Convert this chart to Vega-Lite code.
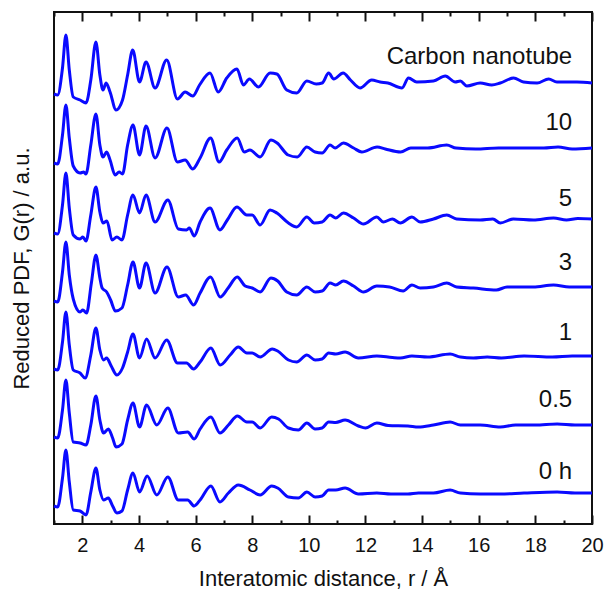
{
"$schema": "https://vega.github.io/schema/vega-lite/v6.json",
"width": 538, "height": 512,
"autosize": "none",
"padding": {"left": 54, "top": 12, "right": 14, "bottom": 71},
"config": {"view": {"stroke": "#111111", "strokeWidth": 2}, "font": "Liberation Sans"},
"datasets": {
"labels": [
{"t": "Carbon nanotube", "r": 19.3, "g": 467},
{"t": "10", "r": 19.3, "g": 401},
{"t": "5", "r": 19.3, "g": 325},
{"t": "3", "r": 19.3, "g": 261},
{"t": "1", "r": 19.3, "g": 191},
{"t": "0.5", "r": 19.3, "g": 124},
{"t": "0 h", "r": 19.3, "g": 52}
],
"curves": [
{"s":"CNT","r":1.00,"g":430},{"s":"CNT","r":1.13,"g":429},{"s":"CNT","r":1.30,"g":456},{"s":"CNT","r":1.42,"g":489},{"s":"CNT","r":1.54,"g":454},{"s":"CNT","r":1.68,"g":427},{"s":"CNT","r":1.92,"g":424},{"s":"CNT","r":2.13,"g":421},{"s":"CNT","r":2.30,"g":444},{"s":"CNT","r":2.48,"g":482},{"s":"CNT","r":2.62,"g":449},{"s":"CNT","r":2.73,"g":434},{"s":"CNT","r":2.84,"g":441},{"s":"CNT","r":2.98,"g":432},{"s":"CNT","r":3.19,"g":414},{"s":"CNT","r":3.42,"g":424},{"s":"CNT","r":3.60,"g":449},{"s":"CNT","r":3.78,"g":474},{"s":"CNT","r":4.02,"g":442},{"s":"CNT","r":4.25,"g":462},{"s":"CNT","r":4.57,"g":436},{"s":"CNT","r":4.98,"g":464},{"s":"CNT","r":5.36,"g":425},{"s":"CNT","r":5.63,"g":432},{"s":"CNT","r":5.90,"g":428},{"s":"CNT","r":6.14,"g":439},{"s":"CNT","r":6.51,"g":451},{"s":"CNT","r":6.80,"g":432},{"s":"CNT","r":7.10,"g":446},{"s":"CNT","r":7.46,"g":455},{"s":"CNT","r":7.69,"g":439},{"s":"CNT","r":7.90,"g":445},{"s":"CNT","r":8.22,"g":437},{"s":"CNT","r":8.63,"g":451},{"s":"CNT","r":8.87,"g":450},{"s":"CNT","r":9.22,"g":434},{"s":"CNT","r":9.57,"g":431},{"s":"CNT","r":9.93,"g":443},{"s":"CNT","r":10.26,"g":440},{"s":"CNT","r":10.47,"g":441},{"s":"CNT","r":10.70,"g":451},{"s":"CNT","r":10.88,"g":445},{"s":"CNT","r":11.21,"g":451},{"s":"CNT","r":11.47,"g":444},{"s":"CNT","r":11.81,"g":436},{"s":"CNT","r":12.22,"g":444},{"s":"CNT","r":12.52,"g":442},{"s":"CNT","r":12.79,"g":441},{"s":"CNT","r":13.29,"g":436},{"s":"CNT","r":13.52,"g":446},{"s":"CNT","r":13.81,"g":442},{"s":"CNT","r":14.40,"g":443},{"s":"CNT","r":14.82,"g":448},{"s":"CNT","r":15.17,"g":442},{"s":"CNT","r":15.35,"g":443},{"s":"CNT","r":15.58,"g":438},{"s":"CNT","r":16.05,"g":441},{"s":"CNT","r":16.46,"g":439},{"s":"CNT","r":16.76,"g":441},{"s":"CNT","r":17.23,"g":446},{"s":"CNT","r":17.58,"g":442},{"s":"CNT","r":18.06,"g":441},{"s":"CNT","r":18.47,"g":445},{"s":"CNT","r":18.76,"g":442},{"s":"CNT","r":19.12,"g":442},{"s":"CNT","r":19.47,"g":442},{"s":"CNT","r":20.00,"g":441},

{"s":"10","r":1.00,"g":361},{"s":"10","r":1.13,"g":360},{"s":"10","r":1.30,"g":389},{"s":"10","r":1.42,"g":419},{"s":"10","r":1.54,"g":386},{"s":"10","r":1.68,"g":358},{"s":"10","r":1.92,"g":351},{"s":"10","r":2.05,"g":352},{"s":"10","r":2.13,"g":350},{"s":"10","r":2.30,"g":379},{"s":"10","r":2.48,"g":410},{"s":"10","r":2.62,"g":379},{"s":"10","r":2.73,"g":367},{"s":"10","r":2.86,"g":372},{"s":"10","r":2.98,"g":364},{"s":"10","r":3.16,"g":349},{"s":"10","r":3.30,"g":352},{"s":"10","r":3.42,"g":350},{"s":"10","r":3.60,"g":379},{"s":"10","r":3.79,"g":399},{"s":"10","r":4.02,"g":369},{"s":"10","r":4.25,"g":398},{"s":"10","r":4.57,"g":366},{"s":"10","r":4.99,"g":396},{"s":"10","r":5.36,"g":362},{"s":"10","r":5.63,"g":364},{"s":"10","r":5.90,"g":355},{"s":"10","r":6.16,"g":366},{"s":"10","r":6.53,"g":386},{"s":"10","r":6.83,"g":362},{"s":"10","r":7.10,"g":374},{"s":"10","r":7.47,"g":386},{"s":"10","r":7.72,"g":372},{"s":"10","r":7.92,"g":374},{"s":"10","r":8.28,"g":367},{"s":"10","r":8.66,"g":384},{"s":"10","r":8.88,"g":381},{"s":"10","r":9.27,"g":369},{"s":"10","r":9.59,"g":367},{"s":"10","r":9.93,"g":377},{"s":"10","r":10.22,"g":372},{"s":"10","r":10.47,"g":371},{"s":"10","r":10.75,"g":379},{"s":"10","r":10.93,"g":376},{"s":"10","r":11.22,"g":381},{"s":"10","r":11.58,"g":376},{"s":"10","r":11.87,"g":372},{"s":"10","r":12.41,"g":377},{"s":"10","r":12.70,"g":375},{"s":"10","r":13.24,"g":372},{"s":"10","r":13.60,"g":376},{"s":"10","r":14.20,"g":376},{"s":"10","r":14.87,"g":379},{"s":"10","r":15.20,"g":376},{"s":"10","r":15.90,"g":375},{"s":"10","r":16.70,"g":376},{"s":"10","r":17.40,"g":376},{"s":"10","r":18.30,"g":376},{"s":"10","r":18.80,"g":377},{"s":"10","r":19.30,"g":375},{"s":"10","r":20.00,"g":376},

{"s":"5","r":1.00,"g":291},{"s":"5","r":1.13,"g":290},{"s":"5","r":1.30,"g":319},{"s":"5","r":1.42,"g":351},{"s":"5","r":1.54,"g":316},{"s":"5","r":1.68,"g":289},{"s":"5","r":1.92,"g":285},{"s":"5","r":2.02,"g":287},{"s":"5","r":2.13,"g":283},{"s":"5","r":2.30,"g":309},{"s":"5","r":2.48,"g":337},{"s":"5","r":2.62,"g":312},{"s":"5","r":2.73,"g":301},{"s":"5","r":2.87,"g":303},{"s":"5","r":3.05,"g":284},{"s":"5","r":3.22,"g":287},{"s":"5","r":3.40,"g":284},{"s":"5","r":3.60,"g":309},{"s":"5","r":3.79,"g":329},{"s":"5","r":4.02,"g":311},{"s":"5","r":4.25,"g":329},{"s":"5","r":4.57,"g":302},{"s":"5","r":5.02,"g":324},{"s":"5","r":5.39,"g":295},{"s":"5","r":5.68,"g":294},{"s":"5","r":5.78,"g":296},{"s":"5","r":5.95,"g":288},{"s":"5","r":6.16,"g":302},{"s":"5","r":6.51,"g":316},{"s":"5","r":6.86,"g":294},{"s":"5","r":7.12,"g":304},{"s":"5","r":7.46,"g":317},{"s":"5","r":7.81,"g":309},{"s":"5","r":8.00,"g":309},{"s":"5","r":8.28,"g":299},{"s":"5","r":8.63,"g":314},{"s":"5","r":8.87,"g":311},{"s":"5","r":9.28,"g":301},{"s":"5","r":9.57,"g":297},{"s":"5","r":9.93,"g":307},{"s":"5","r":10.19,"g":301},{"s":"5","r":10.47,"g":302},{"s":"5","r":10.75,"g":309},{"s":"5","r":10.95,"g":306},{"s":"5","r":11.22,"g":311},{"s":"5","r":11.58,"g":306},{"s":"5","r":11.93,"g":300},{"s":"5","r":12.40,"g":307},{"s":"5","r":12.63,"g":302},{"s":"5","r":12.95,"g":305},{"s":"5","r":13.23,"g":301},{"s":"5","r":13.64,"g":307},{"s":"5","r":13.93,"g":302},{"s":"5","r":14.40,"g":305},{"s":"5","r":14.87,"g":309},{"s":"5","r":15.22,"g":305},{"s":"5","r":16.05,"g":304},{"s":"5","r":16.50,"g":305},{"s":"5","r":16.76,"g":301},{"s":"5","r":17.22,"g":305},{"s":"5","r":17.93,"g":304},{"s":"5","r":18.64,"g":306},{"s":"5","r":19.10,"g":304},{"s":"5","r":19.50,"g":305.5},{"s":"5","r":20.00,"g":305},

{"s":"3","r":1.00,"g":223},{"s":"3","r":1.13,"g":222},{"s":"3","r":1.30,"g":252},{"s":"3","r":1.42,"g":282},{"s":"3","r":1.54,"g":249},{"s":"3","r":1.68,"g":225},{"s":"3","r":1.92,"g":212},{"s":"3","r":2.02,"g":214},{"s":"3","r":2.15,"g":211},{"s":"3","r":2.32,"g":241},{"s":"3","r":2.48,"g":269},{"s":"3","r":2.62,"g":246},{"s":"3","r":2.70,"g":236},{"s":"3","r":2.86,"g":232},{"s":"3","r":3.00,"g":224},{"s":"3","r":3.17,"g":213},{"s":"3","r":3.40,"g":216},{"s":"3","r":3.60,"g":239},{"s":"3","r":3.79,"g":262},{"s":"3","r":4.02,"g":236},{"s":"3","r":4.25,"g":261},{"s":"3","r":4.57,"g":231},{"s":"3","r":4.99,"g":257},{"s":"3","r":5.39,"g":227},{"s":"3","r":5.65,"g":229},{"s":"3","r":5.93,"g":219},{"s":"3","r":6.16,"g":231},{"s":"3","r":6.53,"g":247},{"s":"3","r":6.87,"g":227},{"s":"3","r":7.15,"g":236},{"s":"3","r":7.47,"g":247},{"s":"3","r":7.75,"g":238},{"s":"3","r":8.00,"g":236},{"s":"3","r":8.28,"g":232},{"s":"3","r":8.66,"g":246},{"s":"3","r":8.90,"g":243},{"s":"3","r":9.22,"g":232},{"s":"3","r":9.57,"g":229},{"s":"3","r":9.93,"g":237},{"s":"3","r":10.22,"g":232},{"s":"3","r":10.47,"g":233},{"s":"3","r":10.75,"g":241},{"s":"3","r":10.95,"g":239},{"s":"3","r":11.22,"g":243},{"s":"3","r":11.58,"g":238},{"s":"3","r":11.93,"g":232},{"s":"3","r":12.40,"g":238},{"s":"3","r":12.85,"g":237},{"s":"3","r":13.33,"g":233},{"s":"3","r":13.64,"g":239},{"s":"3","r":13.93,"g":236},{"s":"3","r":14.40,"g":237},{"s":"3","r":14.87,"g":241},{"s":"3","r":15.22,"g":237},{"s":"3","r":15.81,"g":236},{"s":"3","r":16.62,"g":234},{"s":"3","r":17.00,"g":237},{"s":"3","r":17.93,"g":237},{"s":"3","r":18.64,"g":239},{"s":"3","r":19.20,"g":237},{"s":"3","r":20.00,"g":237},

{"s":"1","r":1.00,"g":155},{"s":"1","r":1.13,"g":154},{"s":"1","r":1.30,"g":182},{"s":"1","r":1.42,"g":212},{"s":"1","r":1.54,"g":179},{"s":"1","r":1.68,"g":154},{"s":"1","r":1.92,"g":151},{"s":"1","r":2.10,"g":146},{"s":"1","r":2.30,"g":169},{"s":"1","r":2.48,"g":196},{"s":"1","r":2.62,"g":174},{"s":"1","r":2.75,"g":164},{"s":"1","r":2.86,"g":166},{"s":"1","r":3.02,"g":158},{"s":"1","r":3.22,"g":149},{"s":"1","r":3.42,"g":156},{"s":"1","r":3.60,"g":172},{"s":"1","r":3.79,"g":190},{"s":"1","r":4.02,"g":166},{"s":"1","r":4.27,"g":185},{"s":"1","r":4.57,"g":166},{"s":"1","r":4.98,"g":184},{"s":"1","r":5.36,"g":161},{"s":"1","r":5.68,"g":161},{"s":"1","r":5.93,"g":155},{"s":"1","r":6.16,"g":162},{"s":"1","r":6.54,"g":176},{"s":"1","r":6.87,"g":159},{"s":"1","r":7.22,"g":169},{"s":"1","r":7.51,"g":177},{"s":"1","r":7.81,"g":171},{"s":"1","r":8.00,"g":171},{"s":"1","r":8.28,"g":167},{"s":"1","r":8.71,"g":175},{"s":"1","r":8.90,"g":173},{"s":"1","r":9.28,"g":164},{"s":"1","r":9.57,"g":162},{"s":"1","r":9.93,"g":169},{"s":"1","r":10.22,"g":164},{"s":"1","r":10.47,"g":165},{"s":"1","r":10.70,"g":171},{"s":"1","r":10.95,"g":170},{"s":"1","r":11.28,"g":172},{"s":"1","r":11.75,"g":166},{"s":"1","r":12.40,"g":168},{"s":"1","r":12.95,"g":166.5},{"s":"1","r":13.23,"g":166},{"s":"1","r":13.64,"g":168},{"s":"1","r":14.20,"g":167},{"s":"1","r":14.99,"g":170},{"s":"1","r":15.35,"g":167},{"s":"1","r":15.81,"g":166},{"s":"1","r":16.30,"g":167},{"s":"1","r":16.80,"g":166},{"s":"1","r":17.60,"g":168},{"s":"1","r":18.60,"g":167},{"s":"1","r":19.30,"g":168},{"s":"1","r":20.00,"g":168},

{"s":"0.5","r":1.00,"g":87},{"s":"0.5","r":1.13,"g":86},{"s":"0.5","r":1.30,"g":114},{"s":"0.5","r":1.42,"g":144},{"s":"0.5","r":1.54,"g":111},{"s":"0.5","r":1.68,"g":82},{"s":"0.5","r":1.92,"g":81},{"s":"0.5","r":2.13,"g":79},{"s":"0.5","r":2.30,"g":99},{"s":"0.5","r":2.48,"g":128},{"s":"0.5","r":2.62,"g":104},{"s":"0.5","r":2.75,"g":91},{"s":"0.5","r":2.92,"g":95},{"s":"0.5","r":3.07,"g":86},{"s":"0.5","r":3.19,"g":77},{"s":"0.5","r":3.40,"g":80},{"s":"0.5","r":3.60,"g":104},{"s":"0.5","r":3.79,"g":121},{"s":"0.5","r":4.02,"g":97},{"s":"0.5","r":4.27,"g":119},{"s":"0.5","r":4.63,"g":99},{"s":"0.5","r":5.02,"g":116},{"s":"0.5","r":5.39,"g":91},{"s":"0.5","r":5.72,"g":92},{"s":"0.5","r":5.95,"g":85},{"s":"0.5","r":6.16,"g":95},{"s":"0.5","r":6.54,"g":107},{"s":"0.5","r":6.86,"g":91},{"s":"0.5","r":7.16,"g":99},{"s":"0.5","r":7.48,"g":108},{"s":"0.5","r":7.81,"g":102},{"s":"0.5","r":8.00,"g":102},{"s":"0.5","r":8.28,"g":96},{"s":"0.5","r":8.69,"g":107},{"s":"0.5","r":8.93,"g":105},{"s":"0.5","r":9.28,"g":96},{"s":"0.5","r":9.63,"g":94},{"s":"0.5","r":9.93,"g":101},{"s":"0.5","r":10.22,"g":95},{"s":"0.5","r":10.47,"g":96},{"s":"0.5","r":10.70,"g":102},{"s":"0.5","r":10.95,"g":101.5},{"s":"0.5","r":11.28,"g":104},{"s":"0.5","r":11.75,"g":98},{"s":"0.5","r":12.00,"g":96},{"s":"0.5","r":12.40,"g":101},{"s":"0.5","r":12.80,"g":98.5},{"s":"0.5","r":13.50,"g":98},{"s":"0.5","r":13.87,"g":97},{"s":"0.5","r":14.40,"g":99},{"s":"0.5","r":14.99,"g":102},{"s":"0.5","r":15.35,"g":99},{"s":"0.5","r":16.05,"g":99},{"s":"0.5","r":16.76,"g":97},{"s":"0.5","r":17.30,"g":99},{"s":"0.5","r":18.00,"g":99},{"s":"0.5","r":18.77,"g":100},{"s":"0.5","r":19.40,"g":99},{"s":"0.5","r":20.00,"g":99},

{"s":"0 h","r":1.00,"g":18},{"s":"0 h","r":1.13,"g":17},{"s":"0 h","r":1.30,"g":46},{"s":"0 h","r":1.42,"g":74},{"s":"0 h","r":1.54,"g":42},{"s":"0 h","r":1.68,"g":14},{"s":"0 h","r":1.92,"g":13},{"s":"0 h","r":2.13,"g":9},{"s":"0 h","r":2.30,"g":32},{"s":"0 h","r":2.48,"g":56},{"s":"0 h","r":2.62,"g":34},{"s":"0 h","r":2.75,"g":24},{"s":"0 h","r":2.92,"g":26},{"s":"0 h","r":3.07,"g":18},{"s":"0 h","r":3.22,"g":11},{"s":"0 h","r":3.40,"g":13},{"s":"0 h","r":3.60,"g":34},{"s":"0 h","r":3.79,"g":51},{"s":"0 h","r":4.02,"g":32},{"s":"0 h","r":4.29,"g":48},{"s":"0 h","r":4.63,"g":29},{"s":"0 h","r":5.02,"g":47},{"s":"0 h","r":5.39,"g":24},{"s":"0 h","r":5.72,"g":24},{"s":"0 h","r":5.95,"g":18},{"s":"0 h","r":6.16,"g":24},{"s":"0 h","r":6.54,"g":38},{"s":"0 h","r":6.86,"g":22},{"s":"0 h","r":7.16,"g":31},{"s":"0 h","r":7.51,"g":39},{"s":"0 h","r":7.92,"g":34},{"s":"0 h","r":8.28,"g":29},{"s":"0 h","r":8.69,"g":38},{"s":"0 h","r":8.90,"g":36},{"s":"0 h","r":9.28,"g":27},{"s":"0 h","r":9.63,"g":26},{"s":"0 h","r":9.93,"g":32},{"s":"0 h","r":10.22,"g":27},{"s":"0 h","r":10.47,"g":28},{"s":"0 h","r":10.70,"g":34},{"s":"0 h","r":10.95,"g":34},{"s":"0 h","r":11.28,"g":36},{"s":"0 h","r":11.75,"g":30},{"s":"0 h","r":12.40,"g":31},{"s":"0 h","r":12.90,"g":30},{"s":"0 h","r":13.50,"g":30},{"s":"0 h","r":13.87,"g":31},{"s":"0 h","r":14.40,"g":31},{"s":"0 h","r":14.99,"g":34},{"s":"0 h","r":15.35,"g":31},{"s":"0 h","r":16.05,"g":30},{"s":"0 h","r":16.76,"g":30},{"s":"0 h","r":17.60,"g":31},{"s":"0 h","r":18.77,"g":32},{"s":"0 h","r":19.40,"g":31},{"s":"0 h","r":20.00,"g":31}
]
},
"layer": [
{
"data": {"name": "curves"},
"mark": {"type": "line", "color": "#0a0aff", "strokeWidth": 3, "interpolate": "monotone"},
"encoding": {
"x": {"field": "r", "type": "quantitative", "scale": {"domain": [1, 20], "nice": false, "zero": false},
"axis": {"orient": "bottom", "values": [1,2,3,4,5,6,7,8,9,10,11,12,13,14,15,16,17,18,19,20],
"tickSize": -9,
"tickDash": {"condition": {"test": "datum.value % 2 === 0", "value": [9, 0]}, "value": [4, 30]},
"tickColor": "#111111", "tickWidth": 2,
"labelExpr": "datum.value % 2 === 0 ? datum.label : ''",
"labelFontSize": 20, "labelColor": "#111111", "labelPadding": 20, "labelFlush": false, "labelOverlap": false,
"domain": false, "grid": false,
"title": "Interatomic distance, r / Å", "titleFontSize": 22, "titleFontWeight": "normal", "titleColor": "#111111", "titlePadding": 13}},
"y": {"field": "g", "type": "quantitative", "scale": {"domain": [0, 512], "nice": false, "zero": false},
"axis": {"title": "Reduced PDF, G(r) / a.u.", "ticks": false, "labels": false, "domain": false, "grid": false,
"titleFontSize": 22, "titleFontWeight": "normal", "titleColor": "#111111", "titlePadding": 21}},
"detail": {"field": "s"}
}
},
{
"data": {"name": "labels"},
"mark": {"type": "text", "align": "right", "baseline": "middle", "fontSize": 24, "color": "#111111"},
"encoding": {
"x": {"field": "r", "type": "quantitative",
"axis": {"orient": "top", "values": [1,2,3,4,5,6,7,8,9,10,11,12,13,14,15,16,17,18,19,20],
"tickSize": -9,
"tickDash": {"condition": {"test": "datum.value % 2 === 0", "value": [9, 0]}, "value": [4, 30]},
"tickColor": "#111111", "tickWidth": 2, "labels": false, "domain": false, "grid": false, "title": null}},
"y": {"field": "g", "type": "quantitative",
"axis": {"title": "Reduced PDF, G(r) / a.u.", "ticks": false, "labels": false, "domain": false, "grid": false,
"titleFontSize": 22, "titleFontWeight": "normal", "titleColor": "#111111", "titlePadding": 21}},
"text": {"field": "t"}
}
}
],
"resolve": {"axis": {"x": "independent"}}
}
